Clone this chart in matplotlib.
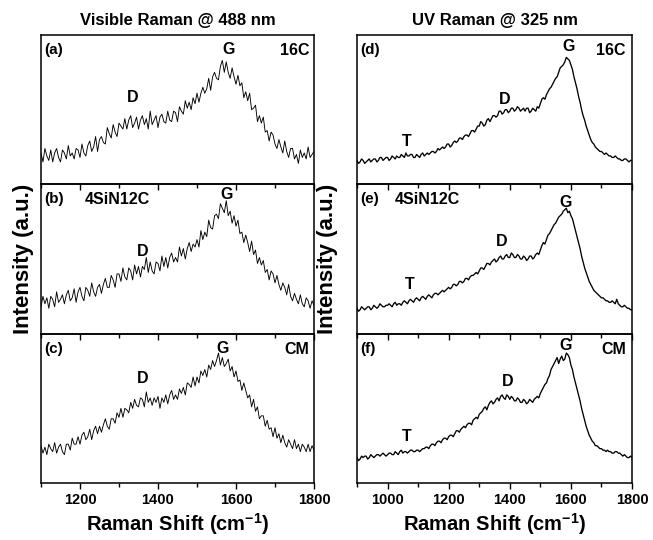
import numpy as np
import matplotlib
matplotlib.use('Agg')
import matplotlib.pyplot as plt
from matplotlib.ticker import MultipleLocator

plt.rcParams['font.family'] = ['Liberation Sans', 'DejaVu Sans']
plt.rcParams['mathtext.fontset'] = 'custom'
plt.rcParams['mathtext.rm'] = 'Liberation Sans:bold'
plt.rcParams['mathtext.bf'] = 'Liberation Sans:bold'

# ---------------- data (arbitrary units 0-100 per panel) -------------
shift_vis = np.arange(1100, 1801, 5)   # Visible Raman sampling grid (cm^-1)
shift_uv = np.arange(900, 1801, 5)     # UV Raman sampling grid (cm^-1)

vis_16C = [21, 15, 24, 19, 16, 23, 15, 21, 24, 18,
           15, 23, 21, 17, 26, 19, 21, 17, 24, 23,
           18, 27, 21, 19, 26, 29, 22, 25, 32, 22,
           30, 32, 28, 27, 38, 34, 31, 40, 35, 32,
           41, 39, 37, 44, 37, 43, 46, 38, 41, 45,
           37, 43, 46, 40, 44, 37, 49, 40, 43, 46,
           38, 45, 47, 42, 41, 49, 43, 42, 49, 48,
           42, 52, 49, 47, 56, 51, 55, 50, 58, 54,
           61, 55, 61, 65, 61, 64, 71, 63, 72, 75,
           71, 70, 79, 83, 75, 82, 75, 71, 78, 72,
           67, 73, 66, 68, 58, 62, 56, 61, 50, 51,
           53, 42, 46, 41, 45, 35, 36, 29, 35, 33,
           27, 24, 30, 25, 21, 29, 22, 18, 24, 24,
           17, 20, 14, 23, 18, 21, 17, 25, 18, 20,
           22]
vis_4SiN12C = [18, 25, 20, 24, 17, 25, 23, 18, 28, 21,
               23, 26, 20, 26, 29, 22, 24, 30, 21, 28,
               31, 25, 22, 31, 29, 25, 34, 28, 25, 31,
               33, 27, 33, 37, 31, 31, 39, 36, 31, 40,
               40, 35, 44, 38, 36, 44, 42, 36, 46, 40,
               45, 38, 45, 43, 51, 41, 48, 42, 40, 48,
               47, 42, 52, 45, 51, 44, 51, 54, 48, 51,
               48, 58, 52, 57, 50, 57, 61, 55, 60, 58,
               63, 58, 69, 63, 68, 65, 76, 71, 70, 79,
               80, 77, 87, 84, 81, 89, 79, 82, 74, 79,
               72, 76, 67, 68, 61, 66, 61, 55, 62, 53,
               56, 47, 51, 46, 49, 41, 43, 36, 42, 40,
               34, 39, 33, 29, 34, 31, 26, 33, 25, 22,
               27, 23, 20, 26, 20, 18, 24, 22, 17, 22,
               19]
vis_CM = [25, 20, 24, 19, 26, 23, 21, 27, 20, 24,
          26, 21, 19, 26, 26, 22, 30, 26, 26, 31,
          26, 32, 34, 29, 31, 36, 29, 35, 38, 33,
          38, 34, 39, 43, 38, 36, 43, 43, 40, 47,
          44, 50, 44, 50, 49, 47, 54, 50, 56, 52,
          51, 57, 56, 51, 61, 54, 57, 52, 57, 54,
          58, 50, 57, 54, 59, 53, 59, 62, 56, 59,
          56, 63, 60, 64, 59, 67, 66, 64, 71, 65,
          71, 67, 75, 72, 76, 71, 79, 76, 82, 78,
          82, 87, 79, 84, 78, 80, 83, 75, 78, 71,
          75, 68, 69, 62, 67, 62, 57, 59, 51, 56,
          48, 51, 43, 45, 45, 38, 42, 36, 37, 31,
          37, 30, 33, 27, 32, 27, 24, 29, 26, 23,
          29, 23, 26, 21, 26, 24, 21, 26, 21, 25,
          22]

uv_16C = [16, 14, 15, 17, 16, 14, 15, 16, 17, 15,
          16, 17, 17, 15, 16, 18, 18, 16, 17, 18,
          18, 16, 17, 19, 18, 17, 19, 18, 18, 20,
          19, 18, 21, 19, 19, 20, 20, 18, 18, 20,
          19, 18, 20, 21, 19, 20, 21, 20, 21, 22,
          22, 21, 22, 24, 23, 24, 25, 24, 25, 27,
          27, 25, 26, 28, 29, 28, 29, 31, 31, 30,
          32, 33, 33, 32, 34, 36, 36, 35, 37, 39,
          39, 42, 41, 39, 40, 43, 44, 42, 44, 46,
          46, 45, 46, 49, 49, 47, 48, 50, 50, 48,
          49, 51, 51, 49, 50, 52, 51, 49, 50, 51,
          49, 51, 51, 48, 49, 51, 50, 49, 52, 51,
          54, 57, 58, 57, 60, 62, 64, 65, 67, 69,
          71, 72, 75, 78, 79, 80, 82, 85, 84, 83,
          80, 77, 72, 68, 64, 59, 55, 50, 46, 43,
          39, 36, 33, 30, 28, 27, 25, 24, 23, 22,
          22, 21, 20, 21, 20, 19, 19, 18, 18, 19,
          18, 17, 17, 16, 16, 17, 17, 16, 15, 16,
          16]
uv_4SiN12C = [17, 15, 16, 18, 17, 16, 17, 18, 18, 16,
              17, 19, 18, 17, 18, 20, 19, 18, 18, 19,
              19, 20, 19, 18, 20, 21, 19, 20, 20, 19,
              21, 22, 21, 20, 22, 23, 22, 21, 23, 24,
              23, 22, 24, 25, 24, 23, 25, 26, 25, 24,
              26, 27, 27, 26, 27, 28, 29, 28, 29, 30,
              31, 30, 31, 33, 33, 32, 33, 35, 35, 34,
              35, 37, 37, 36, 38, 39, 39, 40, 41, 40,
              42, 44, 44, 43, 45, 47, 47, 46, 48, 49,
              50, 48, 49, 51, 52, 50, 50, 52, 53, 51,
              51, 54, 53, 51, 51, 53, 52, 50, 50, 52,
              51, 49, 50, 52, 52, 50, 51, 53, 54, 53,
              56, 59, 61, 60, 63, 66, 67, 69, 71, 73,
              74, 76, 78, 79, 80, 82, 83, 84, 81, 82,
              79, 77, 73, 69, 65, 61, 57, 52, 48, 44,
              41, 38, 35, 33, 31, 29, 28, 27, 26, 25,
              24, 24, 23, 22, 22, 21, 21, 22, 21, 20,
              23, 20, 19, 18, 18, 19, 18, 17, 17, 16,
              16]
uv_CM = [17, 15, 16, 18, 17, 18, 18, 16, 17, 19,
         18, 17, 18, 19, 19, 18, 19, 20, 19, 18,
         19, 20, 20, 19, 19, 21, 20, 19, 21, 22,
         20, 21, 21, 20, 21, 22, 22, 21, 21, 22,
         22, 21, 22, 23, 23, 24, 24, 23, 25, 26,
         26, 25, 27, 28, 28, 27, 29, 30, 30, 29,
         31, 32, 32, 31, 33, 35, 35, 34, 36, 37,
         38, 37, 39, 40, 40, 39, 42, 43, 44, 43,
         46, 47, 48, 50, 51, 49, 52, 54, 55, 53,
         54, 56, 57, 55, 58, 59, 57, 56, 59, 58,
         56, 58, 57, 55, 55, 57, 56, 54, 54, 56,
         55, 53, 54, 56, 55, 54, 56, 57, 58, 57,
         60, 62, 64, 66, 67, 70, 72, 76, 78, 80,
         82, 84, 80, 83, 85, 82, 83, 87, 86, 84,
         79, 76, 71, 67, 63, 59, 55, 50, 46, 42,
         38, 35, 32, 30, 28, 27, 25, 25, 24, 23,
         23, 22, 22, 21, 22, 21, 21, 20, 20, 21,
         21, 20, 20, 19, 18, 19, 18, 17, 17, 18,
         17]

panel_tags = ['(a)', '(b)', '(c)', '(d)', '(e)', '(f)']
sample_names = ['16C', '4SiN12C', 'CM']
column_titles = ['Visible Raman @ 488 nm', 'UV Raman @ 325 nm']
xlabel_text = 'Raman Shift (cm$^{\\mathbf{-1}}$)'
ylabel_text = 'Intensity (a.u.)'

# peak label positions (cm^-1, intensity)
vis_G = [(1582, 90), (1576, 93), (1566, 90)]
vis_D = [(1336, 58), (1362, 55), (1362, 70)]
uv_G = [(1592, 92), (1584, 88), (1584, 92)]
uv_D = [(1384, 57), (1374, 62), (1394, 68)]
uv_T = [(1063, 29), (1073, 33), (1063, 31)]

# ---------------- figure ----------------
W, H = 653, 540
fig = plt.figure(figsize=(W / 100, H / 100), dpi=100)
fig.patch.set_facecolor('white')

tops = [35, 184.33, 333.67]
ph = 149.33
cols = [(41, 273), (357, 275)]
xlims = [(1100, 1800), (900, 1800)]

vis_data = [vis_16C, vis_4SiN12C, vis_CM]
uv_data = [uv_16C, uv_4SiN12C, uv_CM]

bold = dict(fontweight='bold')

for c in range(2):
    x0, w = cols[c]
    for r in range(3):
        ax = fig.add_axes([x0 / W, 1 - (tops[r] + ph) / H, w / W, ph / H])
        ax.patch.set_visible(False)
        if c == 0:
            ax.plot(shift_vis, vis_data[r], color='black', lw=0.65)
        else:
            ax.plot(shift_uv, uv_data[r], color='black', lw=0.95)
        ax.set_xlim(*xlims[c])
        ax.set_ylim(0, 100)
        ax.set_yticks([])
        ax.xaxis.set_major_locator(MultipleLocator(200))
        ax.xaxis.set_minor_locator(MultipleLocator(100))
        for s in ax.spines.values():
            s.set_linewidth(1.1)
        ax.tick_params(axis='x', which='major', direction='out', length=4.5, width=1.0,
                       labelsize=10.5, pad=3, labelbottom=(r == 2))
        ax.tick_params(axis='x', which='minor', direction='out', length=3, width=1.0)
        for lab in ax.get_xticklabels():
            lab.set_fontweight('bold')

        idx = c * 3 + r
        ax.text(0.012, 0.90, panel_tags[idx], transform=ax.transAxes, ha='left', va='center',
                fontsize=11, **bold)
        name = sample_names[r]
        if name == '4SiN12C':
            xn = 0.161 if c == 0 else 0.138
            ax.text(xn, 0.90, name, transform=ax.transAxes, ha='left', va='center',
                    fontsize=11.5, **bold)
        else:
            ax.text(0.982 if c == 0 else 0.978, 0.895, name, transform=ax.transAxes,
                    ha='right', va='center', fontsize=11.5, **bold)
        if c == 0:
            gx, gy = vis_G[r]
            dx, dy = vis_D[r]
        else:
            gx, gy = uv_G[r]
            dx, dy = uv_D[r]
            tx, ty = uv_T[r]
            ax.text(tx, ty, 'T', ha='center', va='center', fontsize=11.5, **bold)
        ax.text(gx, gy, 'G', ha='center', va='center', fontsize=11.5, **bold)
        ax.text(dx, dy, 'D', ha='center', va='center', fontsize=11.5, **bold)

    xc = (x0 + w / 2) / W
    fig.text(xc, 1 - 25 / H, column_titles[c], ha='center', va='baseline', fontsize=12, **bold)
    fig.text(xc, 1 - 531 / H, xlabel_text, ha='center', va='baseline', fontsize=14.5, **bold)

ymid = 1 - 259 / H
fig.text(24 / W, ymid, ylabel_text, rotation=90, ha='center', va='center', fontsize=16, **bold)
fig.text(328 / W, ymid, ylabel_text, rotation=90, ha='center', va='center', fontsize=16, **bold)

fig.savefig('out.png', dpi=100)
